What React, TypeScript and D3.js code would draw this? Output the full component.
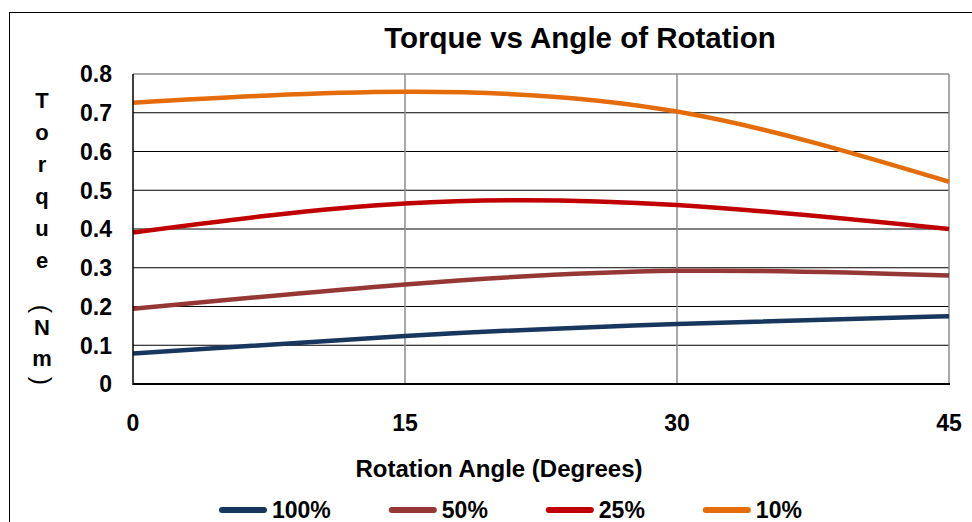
import { line, curveNatural, scaleLinear } from "d3";

// rotation angle (degrees)
const angles = [0, 15, 30, 45];

const seriesNames = ["100%", "50%", "25%", "10%"];
const torque100 = [0.079, 0.124, 0.155, 0.175];
const torque50 = [0.194, 0.257, 0.292, 0.28];
const torque25 = [0.391, 0.466, 0.462, 0.4];
const torque10 = [0.726, 0.754, 0.703, 0.522];
const seriesColors = ["#17375E", "#953735", "#C00000", "#E46C0A"];

const yTicks = [0, 0.1, 0.2, 0.3, 0.4, 0.5, 0.6, 0.7, 0.8];
const xTicks = [0, 15, 30, 45];

const FONT = "'Liberation Sans', Arial, sans-serif";

// stacked y-axis title, one char per row (parens are turned like Excel does)
const yTitleChars = [
    { ch: "T", y: 108 },
    { ch: "o", y: 140 },
    { ch: "r", y: 172 },
    { ch: "q", y: 204 },
    { ch: "u", y: 236 },
    { ch: "e", y: 268 },
    { ch: "(", y: 309, turned: true },
    { ch: "N", y: 335 },
    { ch: "m", y: 366 },
    { ch: ")", y: 381, turned: true },
];

export default function App() {
    const width = 972;
    const height = 522;
    const plot = { left: 133, right: 949, top: 74, bottom: 384 };

    const x = scaleLinear().domain([0, 45]).range([plot.left, plot.right]);
    const y = scaleLinear().domain([0, 0.8]).range([plot.bottom, plot.top]);

    const series = [torque100, torque50, torque25, torque10].map((values, i) => ({
        name: seriesNames[i],
        color: seriesColors[i],
        points: values.map((v, j) => [angles[j], v] as [number, number]),
    }));

    const path = line<[number, number]>()
        .x((d) => x(d[0]))
        .y((d) => y(d[1]))
        .curve(curveNatural);

    // legend layout: line, gap, label, gap
    const legendFont = 23;
    let lx = 219;
    const legend = series.map((s) => {
        const item = { ...s, x: lx };
        const textW = s.name.replace("%", "").length * 0.556 * legendFont + 0.889 * legendFont;
        lx += 48 + 5 + textW + 58;
        return item;
    });

    return (
        <svg
            width={width}
            height={height}
            style={{ position: "absolute", left: 0, top: 0, display: "block", background: "#fff" }}
            fontFamily={FONT}
            fontWeight="bold"
        >
            <rect x={9.5} y={12.5} width={1000} height={600} fill="none" stroke="#000" strokeWidth={1} />

            {/* horizontal gridlines */}
            {yTicks.slice(1, -1).map((t) => (
                <line key={`h${t}`} x1={plot.left} x2={plot.right} y1={y(t)} y2={y(t)} stroke="#000" strokeWidth={1} />
            ))}
            {/* vertical gridlines */}
            {xTicks.slice(1, -1).map((t) => (
                <line key={`v${t}`} x1={x(t)} x2={x(t)} y1={plot.top} y2={plot.bottom} stroke="#8c8c8c" strokeWidth={1.5} />
            ))}
            {/* plot border top/right */}
            <line x1={plot.left} x2={plot.right} y1={plot.top} y2={plot.top} stroke="#8c8c8c" strokeWidth={1.5} />
            <line x1={plot.right} x2={plot.right} y1={plot.top} y2={plot.bottom} stroke="#8c8c8c" strokeWidth={1.5} />

            {series.map((s) => (
                <path key={s.name} d={path(s.points) ?? ""} fill="none" stroke={s.color} strokeWidth={4.5} />
            ))}

            {/* axes */}
            <line x1={plot.left} x2={plot.left} y1={plot.top} y2={plot.bottom + 1} stroke="#000" strokeWidth={1.5} />
            <line x1={plot.left} x2={plot.right + 1} y1={plot.bottom} y2={plot.bottom} stroke="#000" strokeWidth={2} />

            {yTicks.map((t) => (
                <text key={`yl${t}`} x={112} y={y(t)} dy="0.36em" textAnchor="end" fontSize={23}>
                    {String(t)}
                </text>
            ))}
            {xTicks.map((t) => (
                <text key={`xl${t}`} x={x(t)} y={431} textAnchor="middle" fontSize={23}>
                    {String(t)}
                </text>
            ))}

            <text x={580} y={48} textAnchor="middle" fontSize={29.5}>
                Torque vs Angle of Rotation
            </text>
            <text x={499} y={477} textAnchor="middle" fontSize={24}>
                Rotation Angle (Degrees)
            </text>

            {yTitleChars.map((c, i) =>
                c.turned ? (
                    <g key={i} transform={`translate(42, ${c.y}) rotate(90)`}>
                        <text x={0} y={0} dy="0.35em" textAnchor="middle" fontSize={25} fontWeight="normal">
                            {c.ch}
                        </text>
                    </g>
                ) : (
                    <text key={i} x={42} y={c.y} textAnchor="middle" fontSize={22}>
                        {c.ch}
                    </text>
                )
            )}

            {legend.map((s) => (
                <g key={`lg${s.name}`}>
                    <line x1={s.x + 3} x2={s.x + 45} y1={510} y2={510} stroke={s.color} strokeWidth={6} strokeLinecap="round" />
                    <text x={s.x + 53} y={518} fontSize={legendFont}>
                        {s.name}
                    </text>
                </g>
            ))}
        </svg>
    );
}
